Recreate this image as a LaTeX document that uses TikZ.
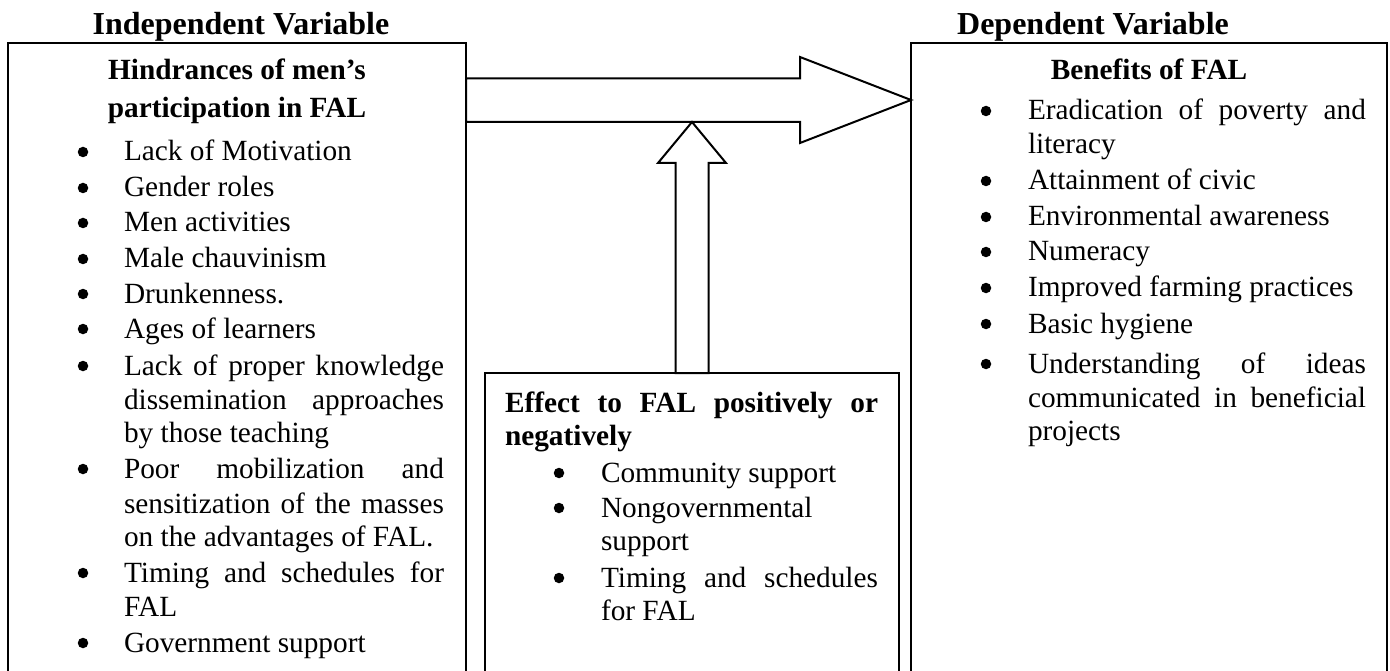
\documentclass[tikz,border=0pt]{standalone}
\usepackage{fontspec}
\setmainfont{Liberation Serif}
\usetikzlibrary{calc}
\newcommand\myfont{\fontsize{29.3}{35}\selectfont}
\newcommand\mytitlefont{\fontsize{32}{38}\selectfont\bfseries}
\tikzset{
  txt/.style={anchor=base west, inner sep=0pt, outer sep=0pt, font=\myfont},
  hd/.style={anchor=base, inner sep=0pt, outer sep=0pt, font=\myfont\bfseries},
  hdl/.style={anchor=base west, inner sep=0pt, outer sep=0pt, font=\myfont\bfseries},
  ttl/.style={anchor=base, inner sep=0pt, font=\mytitlefont},
  bul/.style={circle, fill=black, inner sep=0pt, minimum size=10.5pt},
  frame/.style={draw, line width=2pt, anchor=north west, inner sep=0pt, outer sep=0pt},
  blk/.style={draw, line width=2pt, line join=miter}
}
\newcommand\J[2]{\makebox[#1pt][s]{#2}}
\begin{document}
\begin{tikzpicture}[x=1pt,y=-1pt]
\useasboundingbox (0,0) rectangle (1390,671);
\clip (0,0) rectangle (1390,671);
\fill[white] (0,0) rectangle (1390,671);
% boxes
\node[frame, minimum width=458pt, minimum height=700pt] (lbox) at (8,43) {};
\node[frame, minimum width=476pt, minimum height=700pt] (rbox) at (911,43) {};
\node[frame, minimum width=414pt, minimum height=400pt] (mbox) at (485,373) {};
% titles
\node[ttl] (tleft) at (241,35) {Independent Variable};
\node[ttl] (tright) at (1093,35) {Dependent Variable};
% left box
\node[hd] (lh1) at (237,80) {Hindrances of men’s};
\node[hd] (lh2) at (237,118) {participation in FAL};
\node[txt] (l1) at (124,161) {Lack of Motivation};
\node[txt] (l2) at (124,197) {Gender roles};
\node[txt] (l3) at (124,232) {Men activities};
\node[txt] (l4) at (124,268) {Male chauvinism};
\node[txt] (l5) at (124,303) {Drunkenness.};
\node[txt] (l6) at (124,338) {Ages of learners};
\node[txt] (l7) at (124,375) {\J{320}{Lack of proper knowledge}};
\node[txt] (l8) at (124,409) {\J{320}{dissemination approaches}};
\node[txt] (l9) at (124,442) {by those teaching};
\node[txt] (l10) at (124,478) {\J{320}{Poor mobilization and}};
\node[txt] (l11) at (124,513) {\J{320}{sensitization of the masses}};
\node[txt] (l12) at (124,546) {on the advantages of FAL.};
\node[txt] (l13) at (124,582) {\J{320}{Timing and schedules for}};
\node[txt] (l14) at (124,616) {FAL};
\node[txt] (l15) at (124,652) {Government support};
\foreach \y [count=\i] in {161,197,232,268,303,338,375,478,582,652}
  \node[bul] (lb\i) at (83,\y-9) {};
% middle box
\node[hdl] (mh1) at (505,412) {\J{373}{Effect to FAL positively or}};
\node[hdl] (mh2) at (505,445) {negatively};
\node[txt] (m1) at (601,482) {Community support};
\node[txt] (m2) at (601,517) {Nongovernmental};
\node[txt] (m3) at (601,550) {support};
\node[txt] (m4) at (601,587) {\J{277}{Timing and schedules}};
\node[txt] (m5) at (601,620) {for FAL};
\foreach \y [count=\i] in {482,517,587}
  \node[bul] (mb\i) at (559,\y-9) {};
% right box
\node[hd] (rh1) at (1149,80) {Benefits of FAL};
\node[txt] (r1) at (1028,120) {\J{338}{Eradication of poverty and}};
\node[txt] (r2) at (1028,154) {literacy};
\node[txt] (r3) at (1028,190) {Attainment of civic};
\node[txt] (r4) at (1028,226) {Environmental awareness};
\node[txt] (r5) at (1028,261) {Numeracy};
\node[txt] (r6) at (1028,297) {Improved farming practices};
\node[txt] (r7) at (1028,333) {Basic hygiene};
\node[txt] (r8) at (1028,373) {\J{338}{Understanding of ideas}};
\node[txt] (r9) at (1028,407) {\J{338}{communicated in beneficial}};
\node[txt] (r10) at (1028,440) {projects};
\foreach \y [count=\i] in {120,190,226,261,297,333,373}
  \node[bul] (rb\i) at (986,\y-9) {};
% block arrows
\coordinate (ha) at (0,78.5);
\coordinate (hb) at (0,122);
\coordinate (hc) at (0,100);
\draw[blk] (lbox.east |- ha) -- (800,78.5) -- (800,57) -- (rbox.west |- hc)
  -- (800,143) -- (800,122) -- (lbox.east |- hb) -- cycle;
\coordinate (vtip) at (mbox.north |- hb);
\draw[blk] ($(mbox.north)+(-16.5,0)$) -- ($(mbox.north |- 0,163)+(-16.5,0)$)
  -- ($(mbox.north |- 0,163)+(-34,0)$) -- (vtip)
  -- ($(mbox.north |- 0,163)+(34,0)$) -- ($(mbox.north |- 0,163)+(16.5,0)$)
  -- ($(mbox.north)+(16.5,0)$) -- cycle;
\end{tikzpicture}
\end{document}
